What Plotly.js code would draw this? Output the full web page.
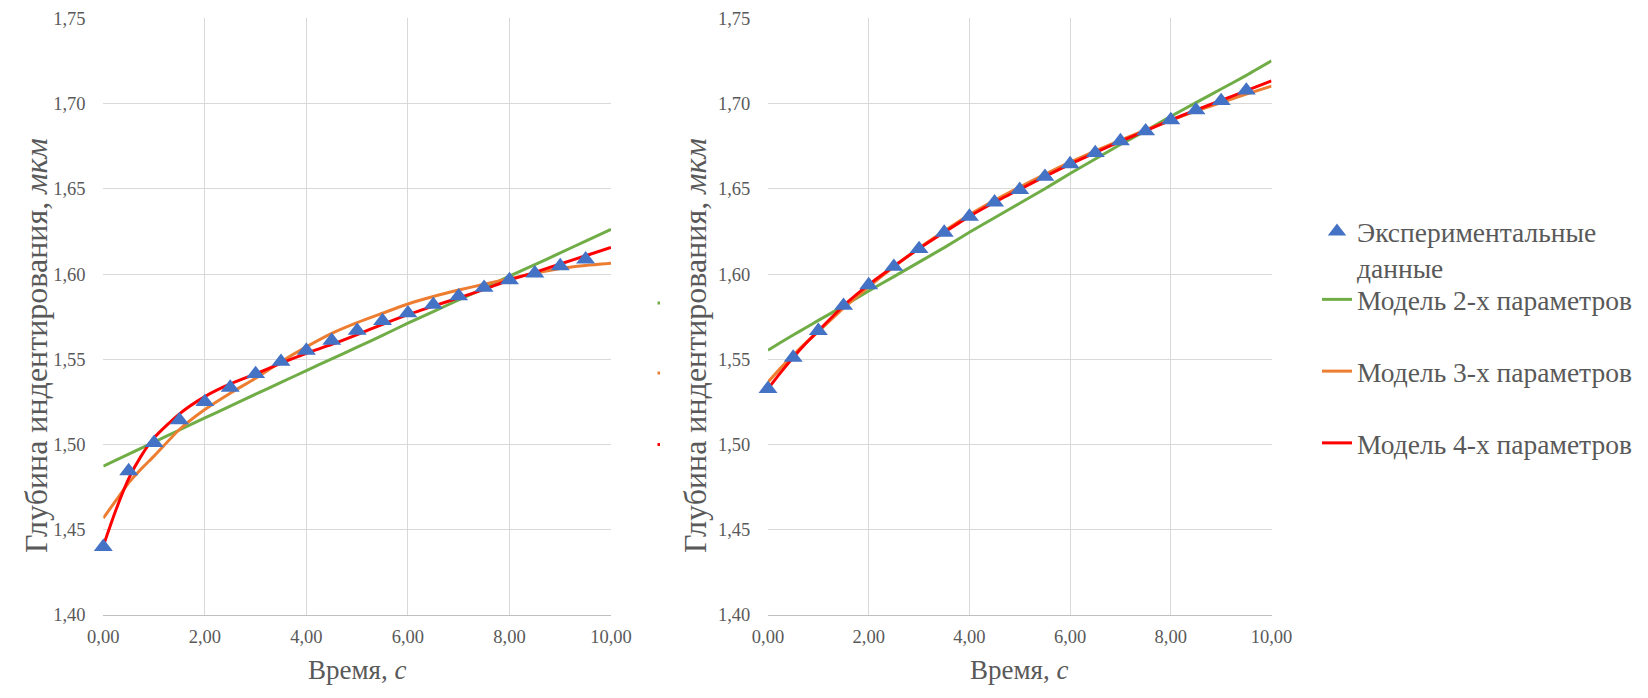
<!DOCTYPE html>
<html>
<head>
<meta charset="utf-8">
<script src="https://cdn.plot.ly/plotly-3.0.1.min.js"></script>
<style>html,body{margin:0;padding:0;background:#fff;}#chart{width:1648px;height:698px;}</style>
</head>
<body>
<div id="chart"></div>
<script>
// ---- data ----
const timeExp = [0,0.5,1,1.5,2,2.5,3,3.5,4,4.5,5,5.5,6,6.5,7,7.5,8,8.5,9,9.5];
const leftExp = [1.4400,1.4844,1.5010,1.5143,1.5250,1.5334,1.5414,1.5486,1.5551,1.5609,1.5668,1.5725,1.5770,1.5820,1.5870,1.5920,1.5965,1.6004,1.6047,1.6086];
const rightExp = [1.5327,1.5510,1.5667,1.5814,1.5935,1.6043,1.6147,1.6243,1.6337,1.6421,1.6494,1.6571,1.6645,1.6710,1.6780,1.6838,1.6903,1.6961,1.7015,1.7077];

const timeModel = [0,0.25,0.5,0.75,1,1.5,2,2.5,3,3.5,4,4.5,5,5.5,6,6.5,7,7.5,8,8.5,9,9.5,10];
const leftModel2 = [1.4873,1.4908,1.4943,1.4979,1.5014,1.5085,1.5156,1.5225,1.5295,1.5364,1.5434,1.5502,1.5571,1.5640,1.5712,1.5780,1.5848,1.5917,1.5988,1.6055,1.6124,1.6193,1.6262];
const leftModel3 = [1.4568,1.4672,1.4775,1.4858,1.4932,1.5088,1.5205,1.5301,1.5389,1.5486,1.5573,1.5652,1.5715,1.5770,1.5824,1.5868,1.5906,1.5940,1.5973,1.6005,1.6033,1.6050,1.6063];
const leftModel4 = [1.4405,1.4617,1.4800,1.4935,1.5039,1.5180,1.5281,1.5355,1.5414,1.5477,1.5535,1.5587,1.5645,1.5705,1.5762,1.5812,1.5860,1.5910,1.5965,1.6010,1.6059,1.6107,1.6156];
const rightModel2 = [1.5553,1.5598,1.5642,1.5685,1.5728,1.5812,1.5900,1.5985,1.6070,1.6155,1.6245,1.6330,1.6415,1.6500,1.6590,1.6675,1.6760,1.6840,1.6925,1.7005,1.7085,1.7165,1.7250];
const rightModel3 = [1.5366,1.5448,1.5525,1.5597,1.5662,1.5800,1.5925,1.6042,1.6152,1.6252,1.6347,1.6432,1.6510,1.6585,1.6656,1.6722,1.6785,1.6845,1.6902,1.6955,1.7005,1.7055,1.7102];
const rightModel4 = [1.5327,1.5422,1.5510,1.5592,1.5667,1.5814,1.5938,1.6046,1.6150,1.6245,1.6338,1.6421,1.6497,1.6572,1.6645,1.6712,1.6778,1.6840,1.6903,1.6962,1.7018,1.7076,1.7133];

const seriesNames = ['Экспериментальные<br>данные','Модель 2-х параметров','Модель 3-х параметров','Модель 4-х параметров'];
const xTitle = 'Время, <i>с</i>';
const yTitle = 'Глубина индентирования, <i>мкм</i>';
const yTicks = [1.40,1.45,1.50,1.55,1.60,1.65,1.70,1.75];
const xTicks = [0,2,4,6,8,10];

// ---- styling ----
const W = 1648, H = 698;
const FONT = 'Liberation Serif, serif';
const TXT = '#595959';
const colExp = '#4472C4', col2 = '#70AD47', col3 = '#ED7D31', col4 = '#FF0000';
const px = v => v / W, py = v => 1 - v / H;

function lineTrace(y, name, color, xa, ya, show, rank){
  return {x: timeModel, y: y, type:'scatter', mode:'lines', name: name,
    line:{color: color, width: 3, shape:'spline', smoothing: 0.6},
    xaxis: xa, yaxis: ya, showlegend: show, legend:'legend2', legendgroup: name, legendrank: rank, hoverinfo:'x+y'};
}
function expTrace(y, xa, ya, show){
  return {x: timeExp, y: y, type:'scatter', mode:'markers', name: seriesNames[0],
    marker:{symbol:'triangle-up', size:16.5, color: colExp}, cliponaxis:false,
    xaxis: xa, yaxis: ya, showlegend: show, legend:'legend', legendgroup:'exp', legendrank: 1};
}

const data = [
  lineTrace(leftModel2, seriesNames[1], col2, 'x', 'y', false, 2),
  lineTrace(leftModel3, seriesNames[2], col3, 'x', 'y', false, 3),
  lineTrace(leftModel4, seriesNames[3], col4, 'x', 'y', false, 4),
  expTrace(leftExp, 'x', 'y', false),
  lineTrace(rightModel2, seriesNames[1], col2, 'x2', 'y2', true, 2),
  lineTrace(rightModel3, seriesNames[2], col3, 'x2', 'y2', true, 3),
  lineTrace(rightModel4, seriesNames[3], col4, 'x2', 'y2', true, 4),
  expTrace(rightExp, 'x2', 'y2', true)
];

const tickFont = {family:FONT, size:18.5, color:TXT};
function xAxis(dom, anchor){
  return {domain: dom, anchor: anchor, range:[0,10], tickvals: xTicks, tickformat:'.2f',
    showgrid:true, gridcolor:'#D9D9D9', gridwidth:1, zeroline:false,
    showline:true, linecolor:'#BFBFBF', linewidth:1, mirror:false,
    ticks:'outside', ticklen:5, tickcolor:'rgba(0,0,0,0)',
    tickfont: tickFont, fixedrange:true};
}
function yAxis(anchor){
  return {domain:[py(615), py(18.3)], anchor: anchor, range:[1.40,1.75], tickvals: yTicks, tickformat:'.2f',
    showgrid:true, gridcolor:'#D9D9D9', gridwidth:1, zeroline:false, showline:false,
    ticks:'outside', ticklen:13, tickcolor:'rgba(0,0,0,0)',
    tickfont: tickFont, fixedrange:true};
}

const xTitleFont = {family:FONT, size:27, color:TXT};
const yTitleFont = {family:FONT, size:32, color:TXT};
const legFont = {family:FONT, size:27.5, color:TXT};
const layout = {
  width: W, height: H,
  margin:{l:0, r:0, t:0, b:0, pad:0},
  paper_bgcolor:'#ffffff', plot_bgcolor:'#ffffff',
  separators:', ',
  font:{family:FONT, size:18.5, color:TXT},
  xaxis: xAxis([px(103.3), px(611)], 'y'),
  yaxis: yAxis('x'),
  xaxis2: xAxis([px(768), px(1271.5)], 'y2'),
  yaxis2: yAxis('x2'),
  showlegend: true,
  legend:{x: px(1317), y: py(207), xanchor:'left', yanchor:'top', valign:'top',
    font: legFont, bgcolor:'rgba(0,0,0,0)', itemwidth:30},
  legend2:{x: px(1317), y: py(275), xanchor:'left', yanchor:'top', valign:'top',
    font: legFont, bgcolor:'rgba(0,0,0,0)', itemwidth:30, traceorder:'grouped', tracegroupgap:33},
  annotations:[
    {text: xTitle, x: px(357), y: py(670), xref:'paper', yref:'paper', showarrow:false, font:xTitleFont, xanchor:'center', yanchor:'middle'},
    {text: xTitle, x: px(1019.5), y: py(670), xref:'paper', yref:'paper', showarrow:false, font:xTitleFont, xanchor:'center', yanchor:'middle'},
    {text: yTitle, x: px(36), y: py(346), xref:'paper', yref:'paper', showarrow:false, font:yTitleFont, textangle:-90, xanchor:'center', yanchor:'middle'},
    {text: yTitle, x: px(695), y: py(346), xref:'paper', yref:'paper', showarrow:false, font:yTitleFont, textangle:-90, xanchor:'center', yanchor:'middle'}
  ],
  shapes:[
    {type:'rect', xref:'paper', yref:'paper', x0:px(657.5), x1:px(660), y0:py(304.5), y1:py(301.5), fillcolor:col2, line:{width:0}},
    {type:'rect', xref:'paper', yref:'paper', x0:px(657.5), x1:px(660), y0:py(374.5), y1:py(371.5), fillcolor:col3, line:{width:0}},
    {type:'rect', xref:'paper', yref:'paper', x0:px(657.5), x1:px(660), y0:py(446), y1:py(443), fillcolor:col4, line:{width:0}}
  ]
};

Plotly.newPlot('chart', data, layout, {displayModeBar:false, staticPlot:true});
</script>
</body>
</html>
